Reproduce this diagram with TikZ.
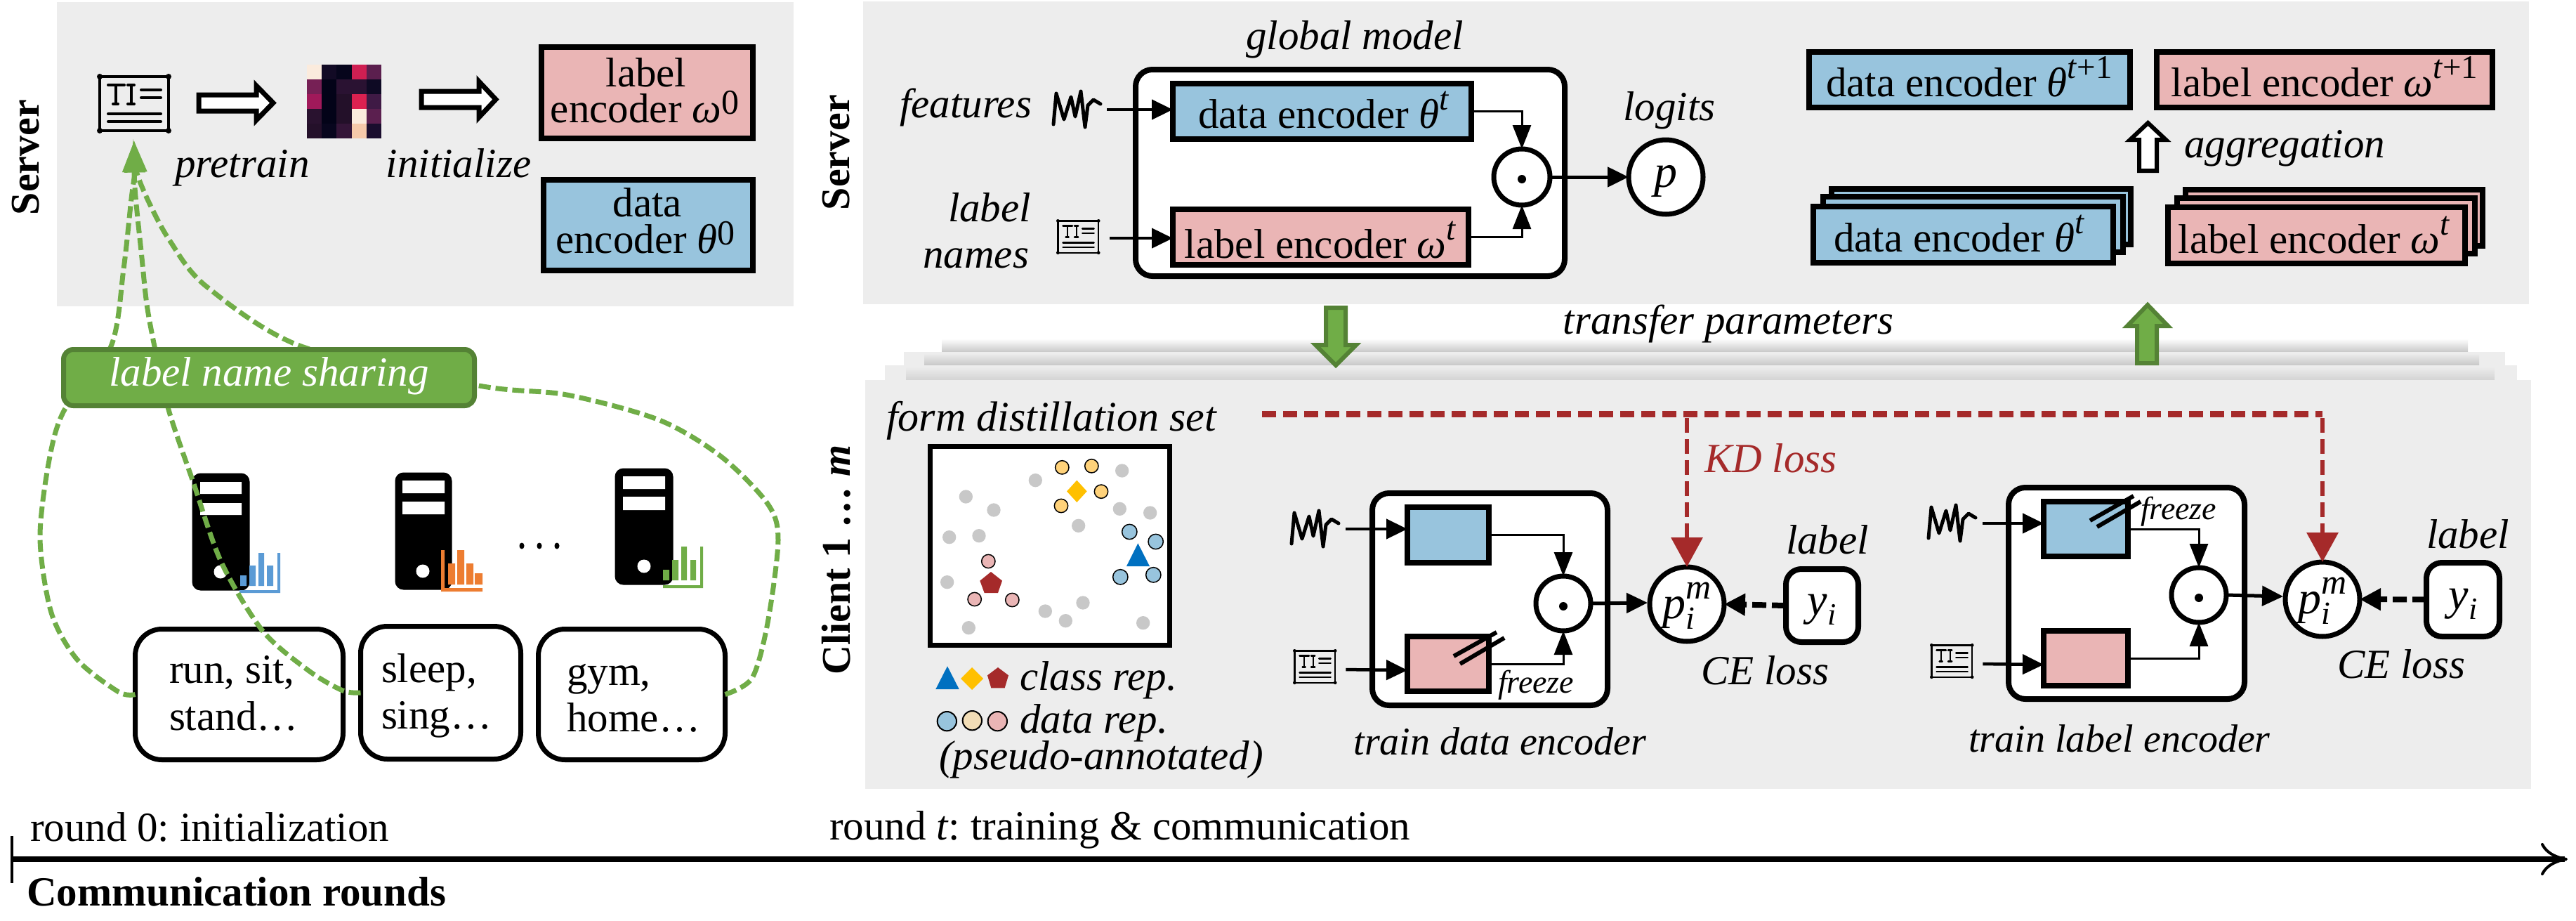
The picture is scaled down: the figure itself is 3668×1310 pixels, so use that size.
\documentclass[tikz,border=0pt]{standalone}
\usepackage{fontspec}
\setmainfont{Liberation Serif}
\frenchspacing
\usetikzlibrary{arrows.meta,calc,shadings}
\definecolor{panel}{HTML}{EDEDED}
\definecolor{blu}{HTML}{98C4DD}
\definecolor{pnk}{HTML}{EAB5B5}
\definecolor{grn}{HTML}{70AD47}
\definecolor{grnd}{HTML}{548235}
\definecolor{redd}{HTML}{A52A2A}
\definecolor{gdot}{HTML}{C8C8C8}
\definecolor{yel}{HTML}{FFD27A}
\definecolor{cblue}{HTML}{0070C0}
\definecolor{cyel}{HTML}{FFC000}
\definecolor{cbeige}{HTML}{F2DDB6}
\definecolor{chb}{HTML}{5B9BD5}
\definecolor{cho}{HTML}{ED7D31}
\newcommand\sups[1]{\raisebox{.44em}{\fontsize{47}{47}\selectfont #1}}
\newcommand\supz[1]{\raisebox{12pt}{\fontsize{50}{50}\selectfont #1}}
\newcommand\subsc[1]{\raisebox{-.22em}{\fontsize{44}{44}\selectfont #1}}
\newcommand\pim{\fontsize{66}{70}\selectfont\itshape p\rlap{\raisebox{-.24em}{\fontsize{46}{46}\selectfont i}}\raisebox{.42em}{\fontsize{50}{50}\selectfont m}}
\newcommand\yi{\fontsize{64}{68}\selectfont\itshape y\subsc{i}}
% name, x1, y1, x2, y2 (outer edges), style, line width
\newcommand\rbox[7]{%
  \pgfmathsetmacro\rbw{#4-#2-#7}\pgfmathsetmacro\rbh{#5-#3-#7}%
  \pgfmathsetmacro\rbx{(#2+#4)/2}\pgfmathsetmacro\rby{(#3+#5)/2}%
  \node[#6,line width=#7pt,minimum width=\rbw pt,minimum height=\rbh pt] (#1) at (\rbx,\rby) {};}
% name, x, y (top left), scale
\newcommand\docicon[4]{%
  \pgfmathsetmacro\dcw{107*#4}\pgfmathsetmacro\dch{85*#4}%
  \pgfmathsetmacro\dlw{4*#4}%
  \pgfmathsetmacro\dcx{#2+\dcw/2}\pgfmathsetmacro\dcy{#3+\dch/2}%
  \node[minimum width=\dcw pt,minimum height=\dch pt] (#1) at (\dcx,\dcy) {};
  \begin{scope}[shift={(#2,#3)},scale=#4,line width=\dlw pt,line cap=round]
    \draw (4,4) rectangle (102,81);
    \fill (4,4) circle (4) (102,4) circle (4) (4,81) circle (4) (102,81) circle (4);
    \draw (16,16) -- (39,16) (27,16) -- (27,43) (23,43) -- (30,43);
    \draw (44,16) -- (53,16) (49,16) -- (49,43) (44,43) -- (53,43);
    \draw (63,23) -- (91,23) (63,34) -- (91,34);
    \draw (16,57) -- (91,57) (16,68) -- (91,68);
  \end{scope}}
% name, x, y (top left), x scale
\newcommand\waveicon[4]{%
  \pgfmathsetmacro\dcw{70*#4}\pgfmathsetmacro\dch{50*#4}%
  \pgfmathsetmacro\dcx{#2+\dcw/2}\pgfmathsetmacro\dcy{#3+\dch/2}%
  \node[minimum width=\dcw pt,minimum height=\dch pt] (#1) at (\dcx,\dcy) {};
  \begin{scope}[shift={(#2,#3)},scale=#4]
    \draw[line width=5pt,line join=round,line cap=round]
      (2,47) -- (6,3) -- (17,40) -- (27,8) -- (33,36) -- (41,0) -- (47,51) -- (51,20) -- (59,12) -- (69,18);
  \end{scope}}
\newcommand\servericon[5]{\rbox{#1}{#2}{#3}{#4}{#5}{srv}{1}}
\tikzset{
  base/.style={inner sep=0pt,outer sep=0pt},
  txt/.style={base,font=\fontsize{59}{68}\selectfont},
  ittxt/.style={base,font=\fontsize{59}{68}\selectfont\itshape},
  sidelbl/.style={base,rotate=90,font=\fontsize{58}{68}\selectfont\bfseries},
  frz/.style={base,font=\fontsize{46}{50}\selectfont\itshape},
  encblue/.style={base,draw=black,fill=blu,rectangle},
  encpink/.style={base,draw=black,fill=pnk,rectangle},
  whitebox/.style={base,draw=black,fill=white,rectangle},
  modelbox/.style={base,draw=black,fill=white,rectangle,rounded corners=24pt},
  ybox/.style={base,draw=black,fill=white,rectangle,rounded corners=22pt},
  namebox/.style={base,draw=black,rectangle,rounded corners=38pt},
  srv/.style={base,fill=black,rectangle,rounded corners=12pt},
  circ/.style={base,draw=black,fill=white,circle,line width=7pt},
  arr/.style={line width=4.5pt,-{Triangle[length=30pt,width=28pt]}},
  thinarr/.style={line width=3pt,-{Triangle[length=34pt,width=26pt]}},
  yarr/.style={line width=8pt,dash pattern=on 20pt off 8pt,-{Triangle[length=30pt,width=30pt]}},
  blockw/.style={draw=black,fill=white,line width=7pt,miter limit=10},
  blockg/.style={draw=grnd,fill=grn,line width=6pt,miter limit=10},
  gdash/.style={draw=grn,line width=7pt,dash pattern=on 17pt off 7pt,-{Triangle[length=44pt,width=33pt,line width=0pt]}},
  kdh/.style={draw=redd,line width=9pt,dash pattern=on 20pt off 10pt},
  kdv/.style={draw=redd,line width=6.5pt,dash pattern=on 21pt off 9pt,-{Triangle[length=42pt,width=44pt]},redd},
}
\begin{document}
\begin{tikzpicture}[x=1pt,y=-1pt]
\useasboundingbox (0,0) rectangle (3668,1310);
\fill[white] (0,0) rectangle (3668,1310);
% panels
\fill[panel] (81,3) rectangle (1130,436);
\fill[panel] (1229,2) rectangle (3601,433);
% stacked client layers
\shade[top color=white,bottom color=gdot] (1341,482) rectangle (3514,501);
\fill[panel] (1287,501) rectangle (3567,520);
\shade[top color=panel,bottom color=gdot] (1316,503) rectangle (3530,520);
\fill[panel] (1260,520) rectangle (3584,541);
\shade[top color=panel,bottom color=gdot!80!white] (1290,522) rectangle (3552,541);
\fill[panel] (1232,541) rectangle (3604,1123);
% side labels
\node[sidelbl] (srvA) at (37,224) {Server};
\node[sidelbl] (srvB) at (1191,217) {Server};
\node[sidelbl] (cli) at (1191,797) {Client 1 … \textit{m}};
% ---- round 0 server
\docicon{docA}{138}{105}{1}
\path[blockw] (283,135) -- (365,135) -- (365,122) -- (389,146.5) -- (365,171) -- (365,158) -- (283,158) -- cycle;
\path[blockw] (600,130) -- (682,130) -- (682,116) -- (706,141.5) -- (682,167) -- (682,153) -- (600,153) -- cycle;
% heat map
\begin{scope}[shift={(437,92)},x=21.2pt,y=-21pt]
  \foreach \r/\list in {0/{FBEBDD,120A25,06051C,CF1F52,5B1F4E},1/{762055,030318,2A1232,2A1232,0E0A24},2/{A0195A,030318,231029,DB2150,3F1A45},3/{29122F,030318,231029,FBEBDD,5B1F4F},4/{24102A,08061E,341538,F6C9AA,1A0D2E}}{
    \foreach \c [count=\k from 0] in \list {
      \definecolor{cellc}{HTML}{\c}
      \fill[cellc] (\k,\r) rectangle ++(1.02,1.02);
    }
  }
\end{scope}
\node[ittxt,anchor=base] (tpre) at (345,252) {pretrain};
\node[ittxt,anchor=base] (tinit) at (653,252) {initialize};
\rbox{le0}{767}{63}{1076}{201}{encpink}{8}
\rbox{de0}{770}{252}{1076}{389}{encblue}{8}
\node[txt,anchor=base] (le0a) at (920,123) {label};
\node[txt,anchor=base] (le0b) at (918,174) {encoder \textit{ω}\supz{0}};
\node[txt,anchor=base] (de0a) at (922,308) {data};
\node[txt,anchor=base] (de0b) at (919,360) {encoder \textit{θ}\supz{0}};
% client name boxes
\rbox{boxA}{189}{892}{492}{1085}{namebox}{7}
\rbox{boxB}{510}{888}{745}{1084}{namebox}{7}
\rbox{boxC}{763}{892}{1036}{1085}{namebox}{7}
\node[txt,anchor=base west] (bA1) at (241,972) {run, sit,};
\node[txt,anchor=base west] (bA2) at (241,1039) {stand…};
\node[txt,anchor=base west] (bB1) at (543,971) {sleep,};
\node[txt,anchor=base west] (bB2) at (543,1037) {sing…};
\node[txt,anchor=base west] (bC1) at (807,975) {gym,};
\node[txt,anchor=base west] (bC2) at (807,1041) {home…};
% servers
\servericon{srvI}{273}{673}{356}{841}
\fill[white] (285,686) rectangle (344,703) (285,716) rectangle (344,733);
\fill[white] (314,814) circle (9.5);
\servericon{srvII}{562}{672}{644}{840}
\fill[white] (573,684) rectangle (633,702) (573,714) rectangle (633,732);
\fill[white] (602,813) circle (9.5);
\servericon{srvIII}{875}{666}{959}{833}
\fill[white] (887,678) rectangle (947,696) (887,707) rectangle (947,726);
\fill[white] (917,806) circle (9.5);
% charts
\fill[chb] (395,787) rectangle (399,844) (341,840) rectangle (399,844);
\fill[chb] (342,819) rectangle (351,834) (355,805) rectangle (364,834) (368,787) rectangle (376,834) (380,805) rectangle (389,834);
\fill[cho] (628,783) rectangle (633,842) (628,837) rectangle (687,842);
\fill[cho] (638,802) rectangle (648,832) (651,783) rectangle (661,832) (664,802) rectangle (674,832) (676,816) rectangle (687,832);
\fill[grn] (997,778) rectangle (1001,837) (944,833) rectangle (1001,837);
\fill[grn] (944,811) rectangle (953,826) (957,797) rectangle (966,826) (970,778) rectangle (978,826) (983,797) rectangle (991,826);
\fill (743,777) ellipse (3.5 and 4.5) (768,777) ellipse (3.5 and 4.5) (793,777) ellipse (3.5 and 4.5);
% label-name sharing curves
\coordinate (apex) at ($(docA.south)+(-0.5,11)$);
\draw[gdash] plot[smooth] coordinates {(boxA.west) (169,985) (110,939) (73,872) (57,766) (70,655) (92,583) (158,493) (176,383) (187,283) (192,243) (apex)};
\draw[gdash] plot[smooth] coordinates {(boxB.west) (488,983) (440,955) (374,898) (315,800) (275,686) (240,583) (220,493) (209,433) (202,367) (192,267) (apex)};
\draw[gdash] plot[smooth] coordinates {(boxC.east) (1071,965) (1093,887) (1108,769) (1093,717) (1027,650) (939,598) (807,562) (682,549) (429,493) (293,407) (242,343) (213,290) (194,243) (apex)};
\rbox{share}{87}{494}{679}{581}{base,draw=grnd,fill=grn,rectangle,rounded corners=14pt}{7}
\node[ittxt,text=white,anchor=base] (shareT) at (383,549) {label name sharing};
% ---- round t server
\node[ittxt,anchor=base] (tglob) at (1929,70) {global model};
\rbox{model}{1613}{95}{2232}{397}{modelbox}{8}
\rbox{deT}{1666}{115}{2099}{202}{encblue}{8}
\rbox{leT}{1666}{294}{2095}{381}{encpink}{8}
\node[txt,anchor=base] (deTt) at (1885,182) {data encoder \textit{θ}\sups{\textit{t}}};
\node[txt,anchor=base] (leTt) at (1880,367) {label encoder \textit{ω}\sups{\textit{t}}};
\node[circ,minimum size=80pt] (dotS) at (2167,252) {};
\fill (2167,255) circle (6);
\node[circ,minimum size=106pt] (pS) at (2372,252) {};
\node[base,font=\fontsize{66}{70}\selectfont\itshape,anchor=base] (pSt) at (2372,266) {p};
\node[ittxt,anchor=base] (tlog) at (2377,171) {logits};
\node[ittxt,anchor=base east] (tfeat) at (1469,167) {features};
\node[ittxt,anchor=base east] (tlab) at (1468,315) {label};
\node[ittxt,anchor=base east] (tnam) at (1465,381) {names};
\waveicon{waveS}{1498}{130}{1}
\docicon{docS}{1504}{312}{0.59}
\draw[arr] ($(waveS.east)+(8,1)$) -- (deT.west |- {$(waveS.east)+(0,1)$});
\draw[arr] ($(docS.east)+(13,2)$) -- (leT.west |- {$(docS.east)+(0,2)$});
\draw[thinarr] (deT.east) -| (dotS.north);
\draw[thinarr] (leT.east) -| (dotS.south);
\draw[line width=5pt,-{Triangle[length=30pt,width=28pt]}] (dotS.east) -- (pS.west);
\rbox{deN}{2572}{70}{3037}{157}{encblue}{8}
\rbox{leN}{3067}{70}{3553}{157}{encpink}{8}
\node[txt,anchor=base] (deNt) at (2804,137) {data encoder \textit{θ}\sups{\textit{t}+1}};
\node[txt,anchor=base] (leNt) at (3310,137) {label encoder \textit{ω}\sups{\textit{t}+1}};
\path[blockw,line width=6pt] (3046,243) -- (3046,199) -- (3033,199) -- (3058.5,175) -- (3084,199) -- (3071,199) -- (3071,243) -- cycle;
\node[ittxt,anchor=base west] (tagg) at (3110,224) {aggregation};
\rbox{dS3}{2604}{265}{3038}{352}{encblue}{8}
\rbox{dS2}{2592}{276}{3027}{363}{encblue}{8}
\rbox{dS1}{2578}{290}{3013}{378}{encblue}{8}
\rbox{lS3}{3108}{266}{3539}{354}{encpink}{8}
\rbox{lS2}{3096}{278}{3528}{365}{encpink}{8}
\rbox{lS1}{3083}{291}{3514}{379}{encpink}{8}
\node[txt,anchor=base] (dS1t) at (2790,358) {data encoder \textit{θ}\sups{\textit{t}}};
\node[txt,anchor=base] (lS1t) at (3295,360) {label encoder \textit{ω}\sups{\textit{t}}};
% transfer arrows
\path[blockg] (1888,438) -- (1916,438) -- (1916,491) -- (1931,491) -- (1902,520) -- (1873,491) -- (1888,491) -- cycle;
\path[blockg] (3043,517) -- (3071,517) -- (3071,464) -- (3087,464) -- (3058,434) -- (3029,464) -- (3043,464) -- cycle;
\node[ittxt,anchor=base] (ttr) at (2461,475) {transfer parameters};
% ---- client panel
\node[ittxt,font=\fontsize{60}{68}\selectfont\itshape,anchor=base west] (tform) at (1262,613) {form distillation set};
\rbox{dist}{1321}{632}{1669}{922}{whitebox}{7}
\begin{scope}[shift={(1280,620)},x=0.33333pt,y=-0.33333pt]
  \foreach \p in {(583,191),(953,150),(286,261),(405,318),(943,313),(1073,330),(767,385),(215,434),(342,428),(206,626),(786,714),(625,750),(712,791),(298,821),(1043,800)}
    \fill[gdot] \p circle (29);
  \foreach \p in {(697,136),(823,130),(864,239),(693,300)}
    \filldraw[fill=yel,draw=black,line width=1.5pt] \p circle (29);
  \foreach \p in {(985,411),(1097,453),(946,604),(1087,595)}
    \filldraw[fill=blu,draw=black,line width=1.5pt] \p circle (32);
  \foreach \p in {(382,537),(323,699),(484,702)}
    \filldraw[fill=pnk,draw=black,line width=1.5pt] \p circle (29);
  \fill[cyel] (760,191) -- (803,238) -- (760,285) -- (717,238) -- cycle;
  \fill[cblue] (1021,460) -- (1071,558) -- (972,558) -- cycle;
  \fill[redd] (393,582) -- (441,620) -- (423,672) -- (365,672) -- (346,620) -- cycle;
  \fill[cblue] (207,985) -- (257,1083) -- (157,1083) -- cycle;
  \fill[cyel] (312,990) -- (360,1038) -- (312,1086) -- (264,1038) -- cycle;
  \fill[redd] (423,990) -- (468,1024) -- (452,1078) -- (394,1078) -- (378,1024) -- cycle;
  \filldraw[fill=blu,draw=black,line width=2pt] (205,1220) circle (41);
  \filldraw[fill=cbeige,draw=black,line width=2pt] (313,1217) circle (41);
  \filldraw[fill=pnk,draw=black,line width=2pt] (421,1220) circle (41);
\end{scope}
\node[ittxt,anchor=base west] (tcls) at (1452,982) {class rep.};
\node[ittxt,anchor=base west] (tdat) at (1452,1043) {data rep.};
\node[ittxt,anchor=base west] (tpse) at (1337,1095) {(pseudo-annotated)};
% train data encoder
\rbox{mA}{1950}{698}{2293}{1008}{modelbox}{8}
\rbox{bA}{2000}{718}{2124}{805}{encblue}{8}
\rbox{pA}{2000}{902}{2124}{988}{encpink}{8}
\node[circ,minimum size=78pt] (dotA) at (2226,859) {};
\fill (2226,863) circle (6);
\node[circ,minimum size=106pt] (pmA) at (2402,860) {};
\node[anchor=base,base] (pmAt) at (2402,880) {\pim};
\waveicon{waveA}{1837}{727}{1}
\docicon{docB}{1841}{924}{0.59}
\draw[arr] ($(waveA.east)+(9,1)$) -- (bA.west |- {$(waveA.east)+(0,1)$});
\draw[arr] ($(docB.east)+(12,4)$) -- ($(pA.west)+(0,9)$);
\draw[thinarr] (bA.east) -| (dotA.north);
\draw[thinarr] (pA.east) -| (dotA.south);
\draw[line width=5pt,-{Triangle[length=30pt,width=28pt]}] (dotA.east) -- ($(pmA.west)+(-3,-2)$);
\draw[line width=6pt] (2070,934) -- (2131,900) (2079,945) -- (2142,908);
\node[frz,anchor=base west] (fA) at (2133,986) {freeze};
\node[ittxt,font=\fontsize{56}{64}\selectfont\itshape,anchor=base] (ttd) at (2136,1074) {train data encoder};
\node[ittxt,text=redd,anchor=base west] (tkd) at (2427,672) {KD loss};
\node[ittxt,anchor=base] (tce1) at (2513,974) {CE loss};
\node[ittxt,anchor=base] (tl1) at (2602,788) {label};
\rbox{yA}{2539}{806}{2650}{918}{ybox}{8}
\node[base,anchor=base] (yAt) at (2594,875) {\yi};
\draw[yarr] (yA.west) -- (pmA.east);
% train label encoder
\rbox{mB}{2856}{690}{3200}{999}{modelbox}{8}
\rbox{bB}{2906}{710}{3034}{796}{encblue}{8}
\rbox{pB}{2906}{894}{3034}{980}{encpink}{8}
\node[circ,minimum size=78pt] (dotB) at (3131,847) {};
\fill (3131,851) circle (6);
\node[circ,minimum size=106pt] (pmB) at (3307,853) {};
\node[anchor=base,base] (pmBt) at (3307,873) {\pim};
\waveicon{waveB}{2744}{719}{1}
\docicon{docC}{2748}{916}{0.59}
\draw[arr] ($(waveB.east)+(9,1)$) -- (bB.west |- {$(waveB.east)+(0,1)$});
\draw[arr] ($(docC.east)+(12,4)$) -- ($(pB.west)+(0,9)$);
\draw[thinarr] (bB.east) -| (dotB.north);
\draw[thinarr] (pB.east) -| (dotB.south);
\draw[line width=5pt,-{Triangle[length=30pt,width=28pt]}] (dotB.east) -- ($(pmB.west)+(-3,-4)$);
\draw[line width=6pt] (2976,741) -- (3038,706) (2986,750) -- (3048,714);
\node[frz,anchor=base west] (fB) at (3048,739) {freeze};
\node[ittxt,font=\fontsize{56}{64}\selectfont\itshape,anchor=base] (ttl) at (3018,1070) {train label encoder};
\node[ittxt,anchor=base] (tce2) at (3419,965) {CE loss};
\node[ittxt,anchor=base] (tl2) at (3514,780) {label};
\rbox{yB}{3451}{797}{3563}{910}{ybox}{8}
\node[base,anchor=base] (yBt) at (3507,867) {\yi};
\draw[yarr] (yB.west) -- (pmB.east);
% KD loss connector
\coordinate (kdstart) at (1797,589);
\coordinate (kdturn) at (pmB.north |- kdstart);
\draw[kdh] (kdstart) -- (kdturn);
\draw[kdv] ($(pmA.north |- kdstart)+(0,6)$) -- (pmA.north);
\draw[kdv] ($(kdturn)+(0,6)$) -- (pmB.north);
% timeline
\coordinate (tlstart) at (17,1223);
\coordinate (tlend) at (3656,1223);
\draw[line width=8.5pt,-{Computer Modern Rightarrow[length=38pt,width=46pt,line width=4pt]}] (tlstart) -- (tlend);
\draw[line width=4pt] ($(tlstart)+(0,-33)$) -- ($(tlstart)+(0,34)$);
\node[txt,anchor=base west] (t0) at (43,1197) {round 0: initialization};
\node[txt,anchor=base west] (t1) at (1181,1195) {round \textit{t}: training \& communication};
\node[txt,font=\fontsize{59}{68}\selectfont\bfseries,anchor=base west] (t2) at (38,1289) {Communication rounds};
\end{tikzpicture}
\end{document}
